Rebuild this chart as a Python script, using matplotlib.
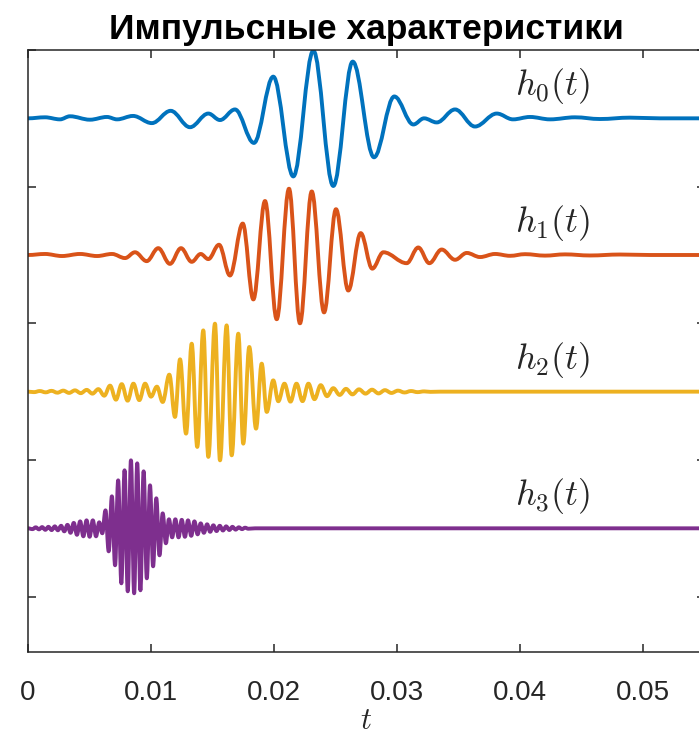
import matplotlib
matplotlib.use("Agg")
import matplotlib.pyplot as plt
from matplotlib.path import Path
from matplotlib.patches import PathPatch

# ---- data: extrema of each impulse response ----
# times in ms, amplitudes normalised so the largest swing is about 1
h0_t_ms = [0.00, 1.38, 2.60, 3.41, 5.04, 6.42, 7.24, 8.54, 10.07, 11.60, 13.17, 14.66,
           15.61, 16.83, 18.37, 19.94, 21.57, 23.20, 24.82, 26.40, 28.13, 29.78, 31.33,
           32.20, 33.23, 34.72, 36.34, 38.11, 39.43, 40.81, 42.44, 44.47, 46.50, 48.94,
           51.38, 60.00]
h0_amp = [0, 0.015, -0.015, 0.03, -0.02, 0.02, -0.015, 0.035, -0.07, 0.11, -0.13, 0.07,
          -0.025, 0.13, -0.36, 0.61, -0.85, 0.99, -0.99, 0.83, -0.57, 0.32, -0.09,
          0.0, -0.06, 0.13, -0.12, 0.07, -0.015, 0.02, -0.015, 0.015, -0.01, 0.01,
          0, 0]

h1_t_ms = [0.00, 1.38, 2.76, 4.23, 5.61, 6.83, 7.89, 8.70, 9.65, 10.59, 11.54, 12.44,
           13.31, 14.04, 14.66, 15.53, 16.42, 17.46, 18.32, 19.27, 20.22, 21.22, 22.11,
           23.07, 24.07, 25.04, 26.04, 27.05, 27.99, 28.89, 30.79, 31.73, 32.63, 33.63,
           34.72, 35.67, 36.75, 37.97, 39.19, 40.41, 42.03, 43.66, 45.69, 48.13, 50.57,
           60.00]
h1_amp = [0, 0.015, -0.015, 0.015, -0.015, 0.015, -0.045, 0.04, -0.09, 0.10, -0.13, 0.10,
          -0.10, 0.015, -0.06, 0.15, -0.30, 0.46, -0.65, 0.79, -0.94, 0.97, -1.0,
          0.93, -0.84, 0.67, -0.52, 0.32, -0.20, 0.04, -0.12, 0.11, -0.12, 0.08,
          -0.07, 0.03, -0.03, 0.015, -0.012, 0.012, -0.009, 0.009, -0.007, 0.007, 0,
          0]

h2_t_ms = [0.00, 0.49, 0.96, 1.44, 1.91, 2.39, 2.87, 3.34, 3.82, 4.29, 4.77, 5.24, 5.72,
           6.20, 6.67, 7.15, 7.62, 8.10, 8.57, 9.05, 9.52, 10.00, 10.48, 10.95, 11.49,
           11.95, 12.36, 12.85, 13.31, 13.76, 14.25, 14.66, 15.20, 15.61, 16.15, 16.56,
           17.10, 17.50, 17.99, 18.54, 19.00, 19.41, 19.94, 20.35, 20.85, 21.34, 21.83,
           22.32, 22.80, 23.29, 23.80, 24.31, 24.82, 25.34, 25.85, 26.38, 26.91, 27.44,
           27.97, 28.50, 29.02, 29.55, 30.08, 30.61, 31.14, 31.67, 32.20, 32.72, 33.50,
           60.00]
h2_amp = [0, -0.007, 0.009, -0.010, 0.012, -0.015, 0.015, -0.018, 0.019, -0.022, 0.026,
          -0.029, 0.037, -0.059, 0.088, -0.117, 0.110, -0.132, 0.117, -0.124, 0.117,
          -0.073, 0.073, -0.151, 0.249, -0.370, 0.473, -0.614, 0.702, -0.809, 0.897,
          -0.955, 0.995, -1.005, 0.970, -0.932, 0.849, -0.761, 0.654, -0.541, 0.410,
          -0.297, 0.165, -0.140, 0.117, -0.146, 0.117, -0.139, 0.117, -0.110, 0.095,
          -0.066, 0.051, -0.048, 0.041, -0.040, 0.034, -0.029, 0.029, -0.026, 0.022,
          -0.019, 0.015, -0.012, 0.009, -0.007, 0.004, -0.003, 0, 0]

h3_t_ms = [0.00, 0.37, 0.63, 0.89, 1.15, 1.41, 1.66, 1.92, 2.18, 2.43, 2.69, 2.95, 3.21,
           3.46, 3.72, 3.98, 4.24, 4.50, 4.76, 5.01, 5.27, 5.53, 5.79, 6.04, 6.30, 6.56,
           6.82, 7.08, 7.33, 7.59, 7.85, 8.11, 8.37, 8.63, 8.88, 9.14, 9.40, 9.66, 9.92,
           10.17, 10.43, 10.69, 10.95, 11.21, 11.46, 11.72, 11.98, 12.24, 12.50, 12.76,
           13.01, 13.27, 13.53, 13.79, 14.04, 14.30, 14.56, 14.81, 15.07, 15.33, 15.59,
           15.85, 16.11, 16.37, 16.62, 16.88, 17.14, 17.40, 17.65, 17.91, 18.46, 60.00]
h3_amp = [0, -0.012, 0.015, -0.015, 0.018, -0.022, 0.022, -0.026, 0.029, -0.029, 0.037,
          -0.044, 0.051, -0.066, 0.080, -0.095, 0.102, -0.117, 0.117, -0.124, 0.117,
          -0.117, 0.088, -0.073, 0.263, -0.337, 0.468, -0.541, 0.702, -0.805, 0.849,
          -0.922, 0.995, -0.951, 0.951, -0.907, 0.834, -0.732, 0.629, -0.556, 0.439,
          -0.395, 0.219, -0.219, 0.132, -0.132, 0.132, -0.132, 0.124, -0.124, 0.117,
          -0.110, 0.102, -0.088, 0.073, -0.066, 0.059, -0.051, 0.044, -0.040, 0.037,
          -0.032, 0.029, -0.025, 0.022, -0.019, 0.015, -0.012, 0.009, -0.006, 0, 0]

labels = [r"$h_0(t)$", r"$h_1(t)$", r"$h_2(t)$", r"$h_3(t)$"]
x_ticks = [0, 0.01, 0.02, 0.03, 0.04, 0.05]
x_tick_labels = ["0", "0.01", "0.02", "0.03", "0.04", "0.05"]

colors = ["#0072BD", "#D95319", "#EDB120", "#7E2F8E"]
series = [(h0_t_ms, h0_amp), (h1_t_ms, h1_amp), (h2_t_ms, h2_amp), (h3_t_ms, h3_amp)]

plt.rcParams["mathtext.fontset"] = "cm"
plt.rcParams["font.family"] = ["Liberation Sans", "DejaVu Sans"]


def wave_path(t, a, base):
    # smooth curve through the extrema, horizontal tangent at each one
    verts = [(t[0], base + a[0])]
    codes = [Path.MOVETO]
    for i in range(1, len(t)):
        d = (t[i] - t[i - 1]) * 0.3642
        verts += [(t[i - 1] + d, base + a[i - 1]), (t[i] - d, base + a[i]), (t[i], base + a[i])]
        codes += [Path.CURVE4] * 3
    return Path(verts, codes)


fig = plt.figure(figsize=(6.99, 7.35), dpi=100)
# the right edge of the axes box lies just past the picture's edge
ax = fig.add_axes([28 / 699, 83 / 735, 676.5 / 699, 602 / 735])

for k, ((t_ms, amp), col) in enumerate(zip(series, colors)):
    base = -2 * k
    t = [v / 1000 for v in t_ms]
    ax.add_patch(PathPatch(wave_path(t, amp, base), fill=False, edgecolor=col,
                           lw=2.8, capstyle="round", joinstyle="round"))
    ax.text(0.0396, base + 0.47, labels[k], fontsize=26, color="#262626",
            ha="left", va="center")

ax.set_xlim(0, 0.055)
ax.set_ylim(-7.81, 1.0)
ax.set_xticks(x_ticks)
ax.set_xticklabels(x_tick_labels)
ax.set_yticks([-7, -5, -3, -1, 1])
ax.set_yticklabels([])
ax.tick_params(direction="in", length=6, width=1.1, color="#262626",
               labelsize=20, labelcolor="#262626", top=True, right=True, pad=20)
for s in ax.spines.values():
    s.set_color("#262626")
    s.set_linewidth(1.1)

ax.set_xlabel(r"$t$", fontsize=22, color="#262626", labelpad=0)
ax.set_title("Импульсные характеристики", fontsize=25.5, fontweight="bold", pad=8)

fig.savefig("out.png", dpi=100)
